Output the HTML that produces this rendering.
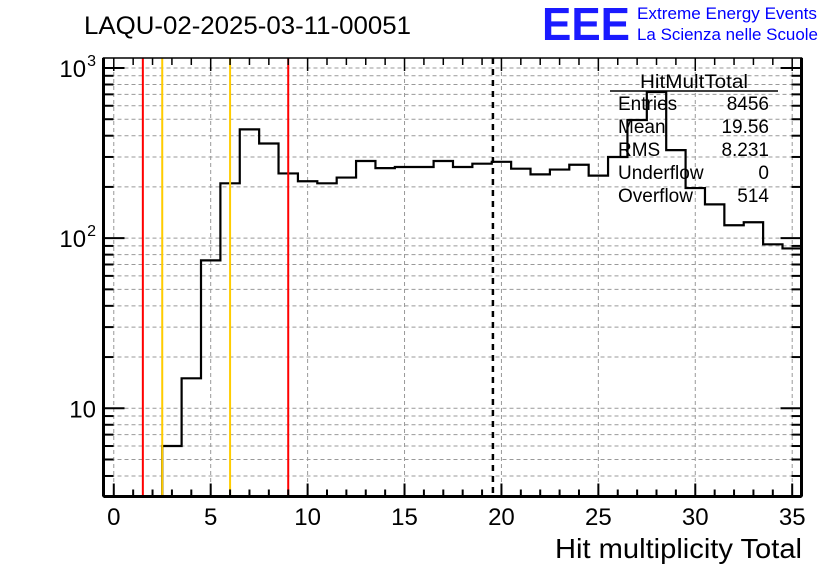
<!DOCTYPE html>
<html><head><meta charset="utf-8"><style>
html,body{margin:0;padding:0;background:#fff;}
svg{display:block;font-family:"Liberation Sans",sans-serif;}
</style></head><body>
<svg id="c" width="836" height="572" viewBox="0 0 836 572">
<rect width="836" height="572" fill="#fff"/>
<text x="84" y="34" font-size="25" fill="#000" textLength="327" lengthAdjust="spacingAndGlyphs">LAQU-02-2025-03-11-00051</text>
<text x="542" y="40" font-size="46" font-weight="bold" fill="#1a1aff" textLength="88" lengthAdjust="spacingAndGlyphs">EEE</text>
<text x="637" y="19" font-size="17" fill="#0000ff" textLength="180" lengthAdjust="spacingAndGlyphs">Extreme Energy Events</text>
<text x="637" y="40" font-size="17" fill="#0000ff" textLength="181" lengthAdjust="spacingAndGlyphs">La Scienza nelle Scuole</text>
<g id="grid"></g>
<g id="marks"></g>
<g id="axes"></g>
<g id="stats">
<text x="694" y="88" font-size="19" text-anchor="middle" textLength="108" lengthAdjust="spacingAndGlyphs">HitMultTotal</text>
<line x1="610" y1="91" x2="778" y2="91" stroke="#000" stroke-width="1.5"/>
</g>
<text x="802" y="558" font-size="28" text-anchor="end" textLength="247" lengthAdjust="spacingAndGlyphs">Hit multiplicity Total</text>
</svg>
<script>
const binCenters=[3,4,5,6,7,8,9,10,11,12,13,14,15,16,17,18,19,20,21,22,23,24,25,26,27,28,29,30,31,32,33,34,35];
const binValues=[6,15,74,210,436,360,240,216,210,227,284,258,262,262,284,262,274,281,256,237,253,270,233,300,495,723,329,197,158,119,124,92,87];
const xTicks=[0,5,10,15,20,25,30,35];
const yTickValues=[10,100,1000];
const redLines=[1.5,9];
const goldLines=[2.5,6];
const meanValue=19.56;
const statLabels=["Entries","Mean","RMS","Underflow","Overflow"];
const statValues=["8456","19.56","8.231","0","514"];

const NS="http://www.w3.org/2000/svg";
const L=103.5,R=801.5,T=58,B=496.5;
const X0=-0.53,X1=35.48,YMIN=3.03,YMAX=1145;
function xs(v){return L+(v-X0)/(X1-X0)*(R-L);}
function ys(v){return B-(Math.log10(v)-Math.log10(YMIN))/(Math.log10(YMAX)-Math.log10(YMIN))*(B-T);}
function mk(tag,attrs,parent){const e=document.createElementNS(NS,tag);for(const k in attrs)e.setAttribute(k,attrs[k]);parent.appendChild(e);return e;}
const grid=document.getElementById('grid'),marks=document.getElementById('marks'),axes=document.getElementById('axes'),stats=document.getElementById('stats');

xTicks.forEach(t=>{const g=mk('line',{x1:xs(t),x2:xs(t),y1:T,y2:B,stroke:'#999','stroke-dasharray':'4,3','stroke-width':1},grid);

});
for(let d=0;d<4;d++){for(let m=1;m<10;m++){const v=m*Math.pow(10,d);if(v<YMIN||v>YMAX)continue;
const g=mk('line',{x1:L,x2:R,y1:ys(v),y2:ys(v),stroke:'#999','stroke-dasharray':'4,3','stroke-width':1},grid);

}}

let p='';
binCenters.forEach((c,i)=>{const x0=xs(c-0.5),x1=Math.min(xs(c+0.5),R),y=ys(binValues[i]);
if(i===0)p+='M'+x0+','+B+' ';
p+='L'+x0+','+y+' L'+x1+','+y+' ';});
const h=mk('path',{d:p,fill:'none',stroke:'#000','stroke-width':2.2},marks);



redLines.forEach(v=>{const l=mk('line',{x1:xs(v),x2:xs(v),y1:T,y2:B,stroke:'#ff0000','stroke-width':2},marks);

});
goldLines.forEach(v=>{const l=mk('line',{x1:xs(v),x2:xs(v),y1:T,y2:B,stroke:'#ffcc00','stroke-width':2},marks);

});
const ml=mk('line',{x1:xs(meanValue),x2:xs(meanValue),y1:T,y2:B,stroke:'#000','stroke-width':2.5,'stroke-dasharray':'6,5'},marks);



const fr=mk('rect',{x:L,y:T,width:R-L,height:B-T,fill:'none',stroke:'#000','stroke-width':1.5},axes);


mk('line',{x1:L,x2:R,y1:B,y2:B,stroke:'#000','stroke-width':3},axes);
mk('line',{x1:L,x2:L,y1:T,y2:B,stroke:'#000','stroke-width':3},axes);
mk('line',{x1:R,x2:R,y1:T,y2:B,stroke:'#000','stroke-width':3},axes);

for(let v=0;v<=35;v++){const maj=v%5===0,len=maj?13:7,x=xs(v);
mk('line',{x1:x,x2:x,y1:B,y2:B-len,stroke:'#000','stroke-width':2},axes);
mk('line',{x1:x,x2:x,y1:T,y2:T+len,stroke:'#000','stroke-width':1.5},axes);}
xTicks.forEach(t=>{const tx=mk('text',{x:xs(t),y:525,'font-size':24,'text-anchor':'middle'},axes);tx.textContent=t;

});

for(let d=0;d<4;d++){for(let m=1;m<10;m++){const v=m*Math.pow(10,d);if(v<YMIN||v>YMAX)continue;const len=m===1?21:10,y=ys(v);
mk('line',{x1:L,x2:L+len,y1:y,y2:y,stroke:'#000','stroke-width':2},axes);
mk('line',{x1:R,x2:R-len,y1:y,y2:y,stroke:'#000','stroke-width':2},axes);}}
yTickValues.forEach(v=>{const e=Math.round(Math.log10(v));const y=ys(v);
let tx;
if(e===1){tx=mk('text',{x:96,y:y+9,'font-size':24,'text-anchor':'end'},axes);tx.textContent='10';}
else{tx=mk('text',{x:96,y:y+9,'font-size':24,'text-anchor':'end'},axes);tx.textContent='10';
const s=mk('tspan',{dx:1,dy:-11,'font-size':16},tx);s.textContent=e;}

});

statLabels.forEach((s,i)=>{const y=110+i*23;
const a=mk('text',{x:618,y:y,'font-size':19},stats);a.textContent=s;


const b=mk('text',{x:769,y:y,'font-size':19,'text-anchor':'end'},stats);b.textContent=statValues[i];

});
</script>
</body></html>
